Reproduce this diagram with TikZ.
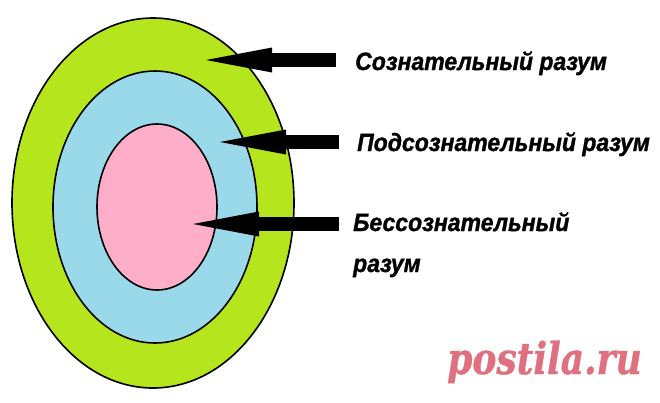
\documentclass[tikz,border=0pt]{standalone}
\usepackage{fontspec}
\setmainfont{Liberation Sans}
\newfontfamily\lblfont[FakeStretch=0.92,FakeBold=1.2]{Liberation Sans}
\newfontfamily\wmfont[FakeStretch=0.91,FakeBold=0.8]{DejaVu Serif Condensed}
\usetikzlibrary{arrows.meta}
\definecolor{lime}{HTML}{B5E61D}
\definecolor{sky}{HTML}{99D9EA}
\definecolor{rose}{HTML}{FFAEC9}
\definecolor{wm}{HTML}{E0707F}
\tikzset{
  ring/.style={draw=black, line width=1.6pt},
  pointer/.style={line width=14pt, -{Triangle[length=66pt,width=25pt,line width=0pt]}},
  label/.style={font=\lblfont\fontsize{25}{41}\selectfont\bfseries\itshape, inner sep=0pt, anchor=base west, align=left},
}
\begin{document}
\begin{tikzpicture}[x=1pt,y=-1pt]
\useasboundingbox (0,0) rectangle (660,402);
\fill[white] (0,0) rectangle (660,402);
\draw[ring, fill=lime] (153,203) ellipse [x radius=141, y radius=185];
\draw[ring, fill=sky] (155,207) ellipse [x radius=102, y radius=136];
\draw[ring, fill=rose] (157,207) ellipse [x radius=60, y radius=83];

\node[label] (t1) at (355,70) {Сознательный разум};
\node[label] (t2) at (357,151) {Подсознательный разум};
\node[label] (t3) at (353,272) {Бессознательный\\разум};

\coordinate (s1) at (336,60);
\coordinate (p1) at (206,60);
\coordinate (s2) at (339,142);
\coordinate (p2) at (220,142);
\coordinate (s3) at (339,224);
\coordinate (p3) at (193,224);
\draw[pointer] (s1) -- (p1);
\draw[pointer] (s2) -- (p2);
\draw[pointer] (s3) -- (p3);

\node[font=\wmfont\fontsize{44}{44}\selectfont\bfseries\itshape, text=wm, inner sep=0pt, anchor=base west] (wm) at (447,374) {postila.ru};
\end{tikzpicture}
\end{document}
